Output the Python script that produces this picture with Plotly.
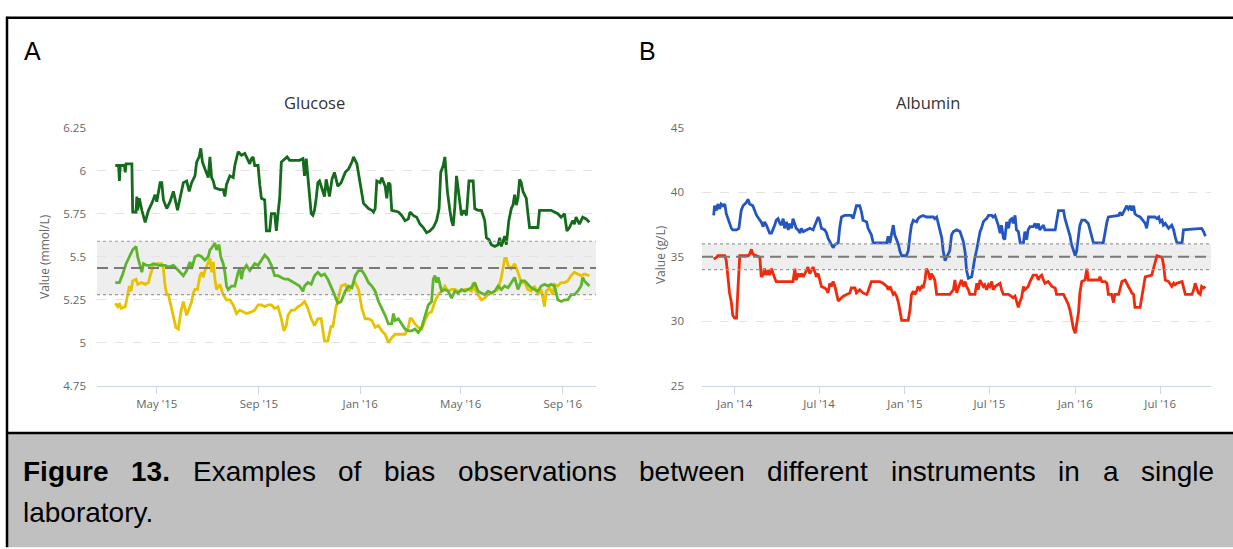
import pandas as pd
import plotly.graph_objects as go

# ---------------- DATA ----------------
# Glucose (panel A): day offsets from 2015-03-01, values in mmol/L
glucose_base = "2015-03-01"
glucose_dark = [(11,6.03),(15,6.03),(16,5.94),(17,6.03),(22,6.03),(23,5.99),(24,6.04),(31,6.04),(32,5.76),(36,5.76),(37,5.85),(38,5.77),(40,5.84),(43,5.77),(47,5.70),(51,5.77),(55,5.81),(59,5.86),(61,5.82),(65,5.93),(67,5.93),(69,5.83),(73,5.78),(77,5.82),(81,5.88),(83,5.84),(86,5.77),(89,5.84),(93,5.93),(97,5.94),(100,5.88),(103,5.93),(107,5.97),(109,6.05),(112,6.08),(114,6.13),(116,6.05),(119,6.01),(123,5.96),(125,6.08),(127,5.96),(129,5.94),(131,5.90),(137,5.89),(141,5.89),(143,5.85),(145,5.92),(149,5.97),(153,5.96),(155,6.03),(157,6.08),(159,6.11),(163,6.09),(167,6.10),(169,6.08),(173,6.04),(175,6.07),(177,6.08),(179,6.03),(183,6.03),(185,5.92),(187,5.84),(191,5.83),(193,5.65),(197,5.65),(199,5.75),(203,5.75),(205,5.65),(207,5.75),(209,5.84),(211,6.05),(215,6.07),(218,6.08),(221,6.06),(233,6.06),(237,6.07),(239,5.97),(241,6.07),(243,5.95),(247,5.75),(249,5.74),(251,5.77),(253,5.84),(255,5.93),(257,5.94),(263,5.85),(265,5.95),(269,5.85),(272,5.95),(275,5.99),(279,5.91),(283,5.93),(288,5.99),(292,6.01),(296,6.05),(298,6.08),(302,6.04),(306,5.92),(310,5.81),(316,5.78),(320,5.77),(322,5.76),(324,5.78),(326,5.94),(330,5.93),(332,5.96),(336,5.91),(338,5.84),(340,5.93),(342,5.92),(344,5.77),(352,5.76),(356,5.74),(360,5.71),(364,5.72),(366,5.76),(370,5.74),(374,5.73),(378,5.69),(382,5.67),(386,5.64),(390,5.65),(394,5.67),(398,5.71),(401,5.78),(403,5.99),(406,6.03),(408,6.08),(411,5.88),(414,5.77),(416,5.71),(418,5.68),(420,5.79),(422,5.97),(425,5.84),(428,5.74),(431,5.77),(434,5.74),(437,5.94),(442,5.94),(444,5.78),(448,5.77),(452,5.77),(456,5.71),(458,5.61),(461,5.60),(464,5.57),(468,5.56),(472,5.57),(474,5.61),(476,5.56),(480,5.62),(482,5.57),(485,5.71),(488,5.78),(490,5.80),(492,5.86),(494,5.80),(496,5.84),(498,5.95),(500,5.93),(502,5.88),(504,5.86),(506,5.84),(508,5.75),(510,5.67),(520,5.67),(522,5.77),(536,5.77),(540,5.76),(544,5.75),(548,5.73),(552,5.75),(555,5.65),(558,5.67),(562,5.71),(564,5.69),(566,5.73),(570,5.69),(574,5.73),(578,5.72),(582,5.70)]
glucose_light = [(11,5.35),(16,5.35),(20,5.40),(24,5.46),(28,5.50),(32,5.54),(36,5.56),(38,5.50),(43,5.41),(45,5.46),(49,5.45),(53,5.45),(57,5.46),(63,5.45),(67,5.45),(71,5.45),(75,5.44),(81,5.45),(85,5.43),(89,5.41),(93,5.39),(97,5.42),(101,5.47),(103,5.43),(107,5.50),(111,5.51),(115,5.50),(119,5.48),(123,5.50),(125,5.54),(127,5.55),(131,5.58),(133,5.54),(136,5.57),(138,5.50),(141,5.46),(143,5.41),(145,5.33),(147,5.31),(151,5.33),(155,5.33),(159,5.41),(161,5.43),(163,5.37),(165,5.42),(169,5.45),(173,5.42),(179,5.46),(183,5.45),(187,5.48),(191,5.51),(195,5.49),(199,5.45),(203,5.39),(207,5.39),(211,5.38),(215,5.37),(219,5.37),(223,5.36),(227,5.35),(233,5.33),(237,5.30),(239,5.33),(243,5.35),(247,5.34),(251,5.39),(255,5.41),(259,5.39),(263,5.40),(267,5.37),(271,5.33),(275,5.28),(279,5.23),(283,5.24),(288,5.30),(292,5.33),(296,5.32),(300,5.39),(304,5.42),(308,5.42),(312,5.39),(316,5.35),(320,5.33),(324,5.30),(328,5.24),(332,5.20),(336,5.16),(340,5.11),(344,5.11),(346,5.17),(348,5.13),(352,5.14),(356,5.11),(360,5.08),(364,5.07),(368,5.07),(372,5.08),(376,5.06),(380,5.09),(384,5.16),(388,5.22),(392,5.24),(394,5.37),(396,5.39),(398,5.35),(400,5.38),(402,5.33),(404,5.30),(408,5.31),(412,5.30),(416,5.26),(420,5.30),(424,5.29),(428,5.31),(432,5.30),(436,5.31),(440,5.32),(444,5.35),(448,5.30),(452,5.29),(456,5.28),(460,5.30),(464,5.29),(468,5.30),(472,5.33),(476,5.31),(480,5.33),(484,5.32),(488,5.35),(492,5.38),(496,5.31),(500,5.36),(504,5.36),(508,5.34),(512,5.32),(516,5.31),(520,5.30),(524,5.33),(528,5.34),(532,5.33),(536,5.34),(540,5.33),(544,5.25),(548,5.24),(552,5.25),(556,5.25),(560,5.28),(564,5.28),(568,5.30),(572,5.33),(574,5.38),(576,5.36),(580,5.34),(582,5.33)]
glucose_yellow = [(11,5.23),(14,5.21),(16,5.23),(18,5.20),(23,5.21),(26,5.28),(28,5.33),(30,5.30),(32,5.36),(36,5.37),(38,5.34),(43,5.35),(47,5.34),(51,5.35),(53,5.39),(57,5.45),(61,5.46),(67,5.46),(69,5.43),(71,5.33),(73,5.28),(75,5.28),(77,5.24),(81,5.15),(84,5.09),(87,5.08),(90,5.18),(93,5.24),(97,5.16),(100,5.20),(103,5.24),(105,5.29),(107,5.31),(110,5.31),(113,5.39),(115,5.41),(117,5.38),(119,5.42),(123,5.47),(125,5.49),(127,5.41),(129,5.47),(131,5.37),(133,5.31),(137,5.34),(141,5.28),(145,5.25),(149,5.25),(153,5.22),(157,5.17),(161,5.19),(165,5.18),(169,5.17),(175,5.18),(179,5.19),(183,5.22),(187,5.22),(191,5.21),(195,5.22),(199,5.22),(203,5.20),(207,5.21),(211,5.14),(214,5.07),(217,5.10),(219,5.16),(223,5.19),(227,5.19),(231,5.21),(235,5.22),(239,5.24),(243,5.20),(247,5.14),(251,5.10),(255,5.14),(259,5.14),(263,5.01),(267,5.01),(269,5.05),(271,5.10),(273,5.09),(275,5.16),(277,5.21),(279,5.24),(281,5.28),(283,5.33),(288,5.34),(292,5.30),(296,5.33),(300,5.35),(304,5.31),(308,5.20),(312,5.14),(316,5.14),(320,5.13),(324,5.09),(328,5.10),(332,5.07),(336,5.05),(340,5.00),(344,5.03),(348,5.05),(352,5.05),(356,5.05),(360,5.05),(364,5.09),(366,5.14),(368,5.14),(372,5.11),(376,5.09),(380,5.08),(384,5.13),(388,5.17),(392,5.18),(396,5.24),(400,5.28),(404,5.30),(408,5.33),(412,5.30),(416,5.31),(420,5.31),(424,5.30),(428,5.30),(432,5.31),(436,5.31),(440,5.30),(442,5.35),(444,5.31),(448,5.28),(452,5.25),(456,5.26),(460,5.28),(464,5.29),(468,5.30),(472,5.31),(476,5.38),(480,5.49),(482,5.49),(484,5.45),(488,5.43),(492,5.46),(496,5.41),(500,5.35),(504,5.35),(508,5.31),(512,5.30),(516,5.33),(520,5.28),(524,5.31),(528,5.21),(530,5.30),(534,5.32),(538,5.28),(540,5.34),(544,5.33),(548,5.35),(552,5.35),(556,5.36),(560,5.39),(564,5.41),(568,5.40),(572,5.39),(576,5.40),(582,5.39)]
glucose_target = 5.435
glucose_limits = (5.28, 5.59)
glucose_ticks = ["2015-05-01", "2015-09-01", "2016-01-01", "2016-05-01", "2016-09-01"]
glucose_tick_text = ["May '15", "Sep '15", "Jan '16", "May '16", "Sep '16"]
glucose_yticks = [4.75, 5, 5.25, 5.5, 5.75, 6, 6.25]

# Albumin (panel B): day offsets from 2013-11-01, values in g/L
albumin_base = "2013-11-01"
albumin_blue = [(16,38.2),(18,38.95),(22,38.58),(25,39.08),(29,38.7),(32,39.08),(36,38.95),(40,39.08),(43,38.33),(47,37.95),(50,37.58),(54,37.2),(57,37.08),(65,37.08),(70,37.2),(73,38.08),(75,38.58),(79,38.95),(86,39.2),(90,39.45),(93,39.08),(100,38.95),(104,38.58),(108,38.2),(115,37.83),(118,37.7),(122,37.33),(125,37.7),(129,37.45),(133,37.08),(136,36.83),(140,36.83),(143,37.08),(147,37.45),(150,37.83),(154,37.95),(158,37.58),(161,37.45),(165,37.95),(168,37.2),(172,37.7),(176,37.08),(179,37.58),(183,37.2),(186,37.95),(190,37.45),(193,37.2),(197,37.08),(201,36.83),(204,37.2),(208,36.95),(215,37.08),(222,37.2),(229,37.08),(236,37.7),(240,38.08),(243,37.83),(247,37.2),(254,37.08),(258,36.83),(261,36.45),(265,36.2),(268,35.95),(272,35.7),(276,35.95),(283,36.08),(286,37.2),(290,38.08),(297,38.2),(311,38.2),(315,37.95),(319,38.45),(322,38.95),(329,38.95),(333,38.45),(336,37.83),(344,37.7),(347,37.2),(351,36.95),(354,36.7),(358,36.08),(387,36.08),(390,36.58),(394,36.08),(397,36.7),(401,37.45),(404,36.7),(408,36.33),(412,35.95),(415,35.45),(419,35.08),(429,35.08),(433,35.45),(437,36.7),(440,37.45),(444,37.83),(451,37.7),(454,37.95),(458,38.08),(465,38.2),(472,38.08),(487,38.08),(490,37.95),(494,38.08),(497,37.58),(501,36.95),(505,36.45),(508,35.45),(512,34.7),(515,34.95),(519,35.2),(522,35.45),(526,36.7),(530,36.95),(537,37.08),(544,36.95),(551,36.2),(555,35.33),(558,33.95),(562,33.33),(569,33.45),(572,34.2),(576,34.95),(580,35.58),(583,36.33),(587,36.95),(590,37.2),(594,37.7),(597,37.83),(601,37.95),(605,38.2),(612,38.2),(615,38.08),(619,38.2),(626,37.45),(630,36.83),(633,37.45),(637,36.45),(640,36.33),(644,37.7),(648,37.2),(651,37.83),(655,37.95),(658,37.58),(662,38.2),(665,37.08),(669,36.95),(673,36.08),(680,36.08),(683,36.95),(687,36.33),(690,37.08),(694,37.33),(701,37.33),(705,37.58),(708,37.2),(712,37.58),(715,37.08),(723,37.45),(726,37.08),(748,37.08),(751,37.83),(755,38.58),(766,38.58),(769,37.95),(776,37.08),(780,36.58),(783,35.95),(787,35.45),(791,35.08),(794,35.45),(798,36.58),(801,37.45),(805,37.83),(812,37.83),(819,37.58),(823,37.08),(826,36.58),(830,36.08),(851,36.08),(855,36.95),(859,37.7),(862,38.08),(884,38.2),(887,38.45),(891,38.2),(898,38.7),(901,38.95),(905,38.7),(909,38.95),(912,38.58),(916,38.95),(919,38.33),(923,38.2),(930,38.08),(937,37.7),(941,37.58),(944,37.2),(948,38.08),(962,38.08),(966,37.95),(970,38.08),(973,37.7),(977,37.83),(980,37.45),(984,37.58),(991,37.2),(998,37.45),(1002,37.08),(1005,36.58),(1009,36.08),(1020,36.08),(1023,37.08),(1062,37.2),(1066,36.95),(1070,36.58)]
albumin_red = [(16,34.83),(22,34.95),(25,35.08),(40,35.08),(43,34.7),(47,33.2),(50,32.2),(54,31.45),(57,30.45),(61,30.25),(65,30.25),(68,32.45),(72,35.08),(90,35.08),(93,35.2),(97,35.58),(100,35.2),(108,35.08),(115,34.95),(118,33.45),(122,33.58),(125,34.08),(129,33.58),(133,33.95),(136,33.58),(140,34.08),(143,33.7),(147,33.33),(150,33.08),(186,33.08),(190,34.08),(193,33.2),(197,33.7),(201,33.45),(204,33.7),(208,33.45),(215,33.95),(218,34.2),(222,33.7),(226,33.95),(229,34.2),(233,33.83),(236,33.45),(240,33.7),(243,33.2),(247,32.7),(254,32.58),(258,32.45),(261,32.2),(265,32.95),(268,32.7),(272,33.08),(276,32.7),(279,32.08),(283,31.58),(290,31.83),(294,31.95),(301,32.08),(308,32.2),(311,32.58),(319,32.58),(322,32.2),(329,32.45),(336,32.2),(344,32.08),(347,32.33),(351,32.7),(354,33.08),(372,33.08),(379,32.95),(387,32.7),(390,32.45),(394,32.7),(397,32.45),(401,32.08),(404,32.2),(408,31.95),(412,31.45),(415,30.95),(419,30.08),(433,30.08),(437,30.95),(440,32.08),(444,32.33),(447,32.08),(451,32.33),(454,32.7),(458,32.45),(462,32.7),(465,32.58),(469,33.2),(472,34.08),(476,33.83),(480,33.2),(483,33.7),(487,33.33),(490,33.2),(494,32.08),(522,32.08),(530,32.45),(533,33.2),(537,32.2),(540,32.58),(544,32.95),(547,33.2),(551,32.7),(555,33.08),(558,32.7),(562,32.45),(565,32.08),(576,32.08),(580,32.95),(583,32.45),(587,33.2),(590,32.95),(594,32.7),(597,32.83),(601,32.45),(605,32.83),(608,32.7),(612,33.08),(615,32.45),(619,32.7),(626,32.83),(630,32.95),(633,32.45),(637,32.08),(648,32.08),(655,31.95),(658,31.83),(662,31.95),(665,31.58),(669,31.08),(673,31.58),(676,31.83),(680,32.7),(683,32.45),(687,32.58),(690,32.7),(694,33.08),(698,33.45),(701,33.58),(708,33.58),(712,33.2),(715,33.45),(719,33.58),(723,33.2),(726,32.95),(733,33.08),(741,32.7),(748,32.58),(751,32.08),(766,32.08),(769,31.83),(776,31.33),(780,30.83),(783,30.2),(787,29.45),(791,29.08),(794,29.7),(798,30.7),(801,32.2),(805,33.08),(812,33.2),(816,34.08),(819,33.2),(841,33.2),(844,33.45),(848,33.08),(855,33.08),(859,32.95),(862,32.08),(869,32.08),(873,31.45),(876,32.08),(884,32.08),(891,33.08),(898,33.2),(901,32.95),(905,32.7),(909,32.45),(912,32.2),(916,32.08),(919,31.08),(930,31.08),(934,32.08),(937,32.7),(941,33.45),(955,33.58),(959,34.2),(962,34.7),(966,35.08),(977,34.95),(980,34.45),(984,33.2),(991,33.08),(998,32.7),(1002,32.95),(1005,32.83),(1009,32.95),(1020,33.08),(1027,32.08),(1041,32.08),(1045,32.45),(1048,32.95),(1052,32.58),(1055,32.2),(1059,32.08),(1062,32.7),(1066,32.58),(1070,32.7)]
albumin_target = 35.0
albumin_limits = (34.0, 36.0)
albumin_ticks = ["2014-01-01", "2014-07-01", "2015-01-01", "2015-07-01", "2016-01-01", "2016-07-01"]
albumin_tick_text = ["Jan '14", "Jul '14", "Jan '15", "Jul '15", "Jan '16", "Jul '16"]
albumin_yticks = [25, 30, 35, 40, 45]

caption_bold = ["Figure", "13."]
caption_line1 = ["Examples", "of", "bias", "observations", "between", "different", "instruments", "in", "a", "single"]
caption_line2 = "laboratory."

# ---------------- LAYOUT HELPERS ----------------
W, H = 1233, 549
def px(x):
    return x / W
def py(y):
    return 1 - y / H

def to_xy(base, pairs):
    days = [d for d, _ in pairs]
    vals = [v for _, v in pairs]
    dates = pd.Timestamp(base) + pd.to_timedelta(days, unit="D")
    return dates, vals

fig = go.Figure()

series = [
    (glucose_base, glucose_yellow, "#e8c200", "x", "y"),
    (glucose_base, glucose_light, "#5db52a", "x", "y"),
    (glucose_base, glucose_dark, "#146b1c", "x", "y"),
    (albumin_base, albumin_red, "#f02a0c", "x2", "y2"),
    (albumin_base, albumin_blue, "#2456c2", "x2", "y2"),
]
for base, pairs, color, xa, ya in series:
    xs, ys = to_xy(base, pairs)
    fig.add_trace(go.Scatter(x=xs, y=ys, mode="lines", xaxis=xa, yaxis=ya,
                             line=dict(color=color, width=2.8), showlegend=False,
                             hoverinfo="skip"))

tickfont = dict(family="Open Sans, DejaVu Sans, sans-serif", size=11.5, color="#666666")
ydom = [py(388.5), py(123)]
xdomA = [px(97), px(596)]
xdomB = [px(702), px(1211)]

common_x = dict(showgrid=False, showline=True, linecolor="#ccd6eb", linewidth=1,
                ticks="outside", ticklen=7, tickcolor="#ccd6eb", tickfont=tickfont,
                zeroline=False, type="date")
common_y = dict(showgrid=True, gridcolor="#e3e3e3", griddash="dash", gridwidth=1,
                zeroline=False, showline=False, ticks="", tickfont=tickfont)

fig.update_layout(
    width=W, height=H, margin=dict(l=0, r=0, t=0, b=0),
    paper_bgcolor="white", plot_bgcolor="white",
    xaxis=dict(domain=xdomA, range=["2015-02-18", "2016-10-11"],
               tickvals=glucose_ticks, ticktext=glucose_tick_text, anchor="y", **common_x),
    yaxis=dict(domain=ydom, range=[4.75, 6.25], tickvals=glucose_yticks,
               ticktext=[("%g" % v) for v in glucose_yticks], anchor="x",
               ticklabelstandoff=10, **common_y),
    xaxis2=dict(domain=xdomB, range=["2013-10-23", "2016-10-18"],
                tickvals=albumin_ticks, ticktext=albumin_tick_text, anchor="y2", **common_x),
    yaxis2=dict(domain=ydom, range=[25, 45], tickvals=albumin_yticks, anchor="x2",
                ticklabelstandoff=17, **common_y),
)

shapes = []
for xr, yr, target, (lo, hi) in [("x domain", "y", glucose_target, glucose_limits),
                                  ("x2 domain", "y2", albumin_target, albumin_limits)]:
    shapes.append(dict(type="rect", xref=xr, yref=yr, x0=0, x1=1, y0=lo, y1=hi,
                       fillcolor="#eeeeee", line=dict(width=0), layer="below"))
    for v in (lo, hi):
        shapes.append(dict(type="line", xref=xr, yref=yr, x0=0, x1=1, y0=v, y1=v,
                           line=dict(color="#9a9a9a", width=1.2, dash="dot"), layer="above"))
    shapes.append(dict(type="line", xref=xr, yref=yr, x0=0, x1=1, y0=target, y1=target,
                       line=dict(color="#7a7a7a", width=2, dash="11px,6px"), layer="above"))

# figure frame and caption box
shapes.append(dict(type="rect", xref="paper", yref="paper", x0=px(7), x1=1.01, y0=-0.01, y1=py(437),
                   fillcolor="#c0c0c0", line=dict(width=0), layer="below"))
shapes.append(dict(type="line", xref="paper", yref="paper", x0=px(6), x1=1.01, y0=py(10), y1=py(10),
                   line=dict(color="black", width=2.5)))
shapes.append(dict(type="line", xref="paper", yref="paper", x0=px(7), x1=1.01, y0=py(437), y1=py(437),
                   line=dict(color="black", width=2.5)))
shapes.append(dict(type="line", xref="paper", yref="paper", x0=px(7), x1=px(7), y0=-0.01, y1=py(9),
                   line=dict(color="black", width=2.5)))
fig.update_layout(shapes=shapes)

ann = []
title_font = dict(family="Open Sans, DejaVu Sans, sans-serif", size=16.5, color="#333333")
ann.append(dict(text="Glucose", x=px(314), y=py(97), xref="paper", yref="paper",
                showarrow=False, font=title_font, xanchor="center", yanchor="middle"))
ann.append(dict(text="Albumin", x=px(928), y=py(97), xref="paper", yref="paper",
                showarrow=False, font=title_font, xanchor="center", yanchor="middle"))
axis_font = dict(family="Open Sans, DejaVu Sans, sans-serif", size=12, color="#666666")
ann.append(dict(text="Value (mmol/L)", x=px(44), y=py(256), xref="paper", yref="paper",
                showarrow=False, font=axis_font, textangle=-90, xanchor="center", yanchor="middle"))
ann.append(dict(text="Value (g/L)", x=px(660), y=py(254), xref="paper", yref="paper",
                showarrow=False, font=axis_font, textangle=-90, xanchor="center", yanchor="middle"))
label_font = dict(family="Liberation Sans, Arial, sans-serif", size=25, color="black")
ann.append(dict(text="A", x=px(22), y=py(44), xref="paper", yref="paper", showarrow=False,
                font=label_font, xanchor="left", yanchor="middle"))
ann.append(dict(text="B", x=px(637), y=py(44), xref="paper", yref="paper", showarrow=False,
                font=label_font, xanchor="left", yanchor="middle"))

# justified caption first line
REG = dict(a=556, b=556, c=500, d=556, e=556, f=278, g=556, h=556, i=222, l=222, m=833, n=556,
           o=556, p=556, r=333, s=500, t=278, u=556, v=500, w=722, x=500, y=500, E=667)
BOLD = {"F": 611, "i": 278, "g": 611, "u": 611, "r": 389, "e": 556, "1": 556, "3": 556, ".": 278}
fs = 28
words = [(w, True) for w in caption_bold] + [(w, False) for w in caption_line1]
def wwidth(word, bold):
    tab = BOLD if bold else REG
    return sum(tab.get(ch, 556) for ch in word) * fs / 1000.0
widths = [wwidth(w, b) for w, b in words]
x_left, x_right = 22, 1213
gap = (x_right - x_left - sum(widths)) / (len(words) - 1)
cap_font = dict(family="Liberation Sans, Arial, sans-serif", size=fs, color="black")
xpos = x_left
for (w, b), wd in zip(words, widths):
    ann.append(dict(text=("<b>%s</b>" % w) if b else w, x=px(xpos), y=py(477), xref="paper",
                    yref="paper", showarrow=False, font=cap_font, xanchor="left",
                    yanchor="middle", borderpad=0))
    xpos += wd + gap
ann.append(dict(text=caption_line2, x=px(x_left), y=py(519), xref="paper", yref="paper",
                showarrow=False, font=cap_font, xanchor="left", yanchor="middle", borderpad=0))
fig.update_layout(annotations=ann)

fig.write_html("out.html")
